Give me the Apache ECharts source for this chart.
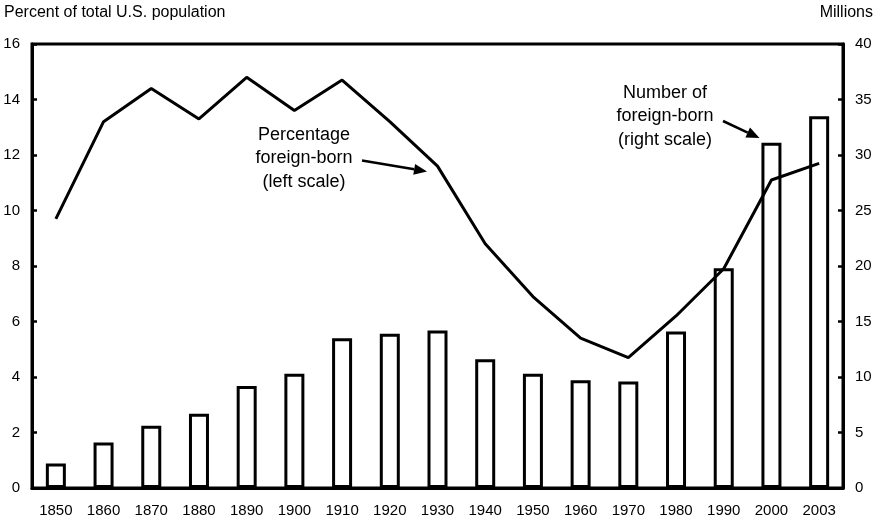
<!DOCTYPE html>
<html>
<head>
<meta charset="utf-8">
<script src="https://cdn.jsdelivr.net/npm/echarts@6/dist/echarts.min.js"></script>
<style>
  html, body { margin: 0; padding: 0; background: #fff; }
  #chart { width: 881px; height: 524px; }
</style>
</head>
<body>
<div id="chart"></div>
<script>
'use strict';

const years = ['1850', '1860', '1870', '1880', '1890', '1900', '1910', '1920', '1930',
    '1940', '1950', '1960', '1970', '1980', '1990', '2000', '2003'];

// percent of total population (left scale)
const pctForeignBorn = [9.7, 13.2, 14.4, 13.3, 14.8, 13.6, 14.7, 13.2, 11.6,
    8.8, 6.9, 5.4, 4.7, 6.2, 7.9, 11.1, 11.7];

// number of foreign-born, millions (right scale)
const numForeignBorn = [2.2, 4.1, 5.6, 6.7, 9.2, 10.3, 13.5, 13.9, 14.2,
    11.6, 10.3, 9.7, 9.6, 14.1, 19.8, 31.1, 33.5];

const font = 'Liberation Sans, Arial, sans-serif';
const ink = '#000';

const axisBase = {
    type: 'value',
    axisLine: { show: true, lineStyle: { color: ink, width: 3 } },
    axisTick: { show: true, inside: true, length: 5, lineStyle: { color: ink, width: 2.5 } },
    splitLine: { show: false },
    axisLabel: { color: ink, fontSize: 15, fontFamily: font, margin: 12 },
};

const arrow = (x1, y1, x2, y2) => {
    const a = Math.atan2(y2 - y1, x2 - x1);
    const len = 13, half = 5.5;
    const bx = x2 - len * Math.cos(a), by = y2 - len * Math.sin(a);
    const px = -Math.sin(a) * half, py = Math.cos(a) * half;
    return [
        { type: 'line', shape: { x1: x1, y1: y1, x2: bx, y2: by },
          style: { stroke: ink, lineWidth: 2.5 }, z: 100 },
        { type: 'polygon', shape: { points: [[x2, y2], [bx + px, by + py], [bx - px, by - py]] },
          style: { fill: ink }, z: 100 },
    ];
};

const label = (x, y, text, align) => ({
    type: 'text', x: x, y: y, z: 100,
    style: { text: text, fill: ink, font: '16px ' + font, textAlign: align, textVerticalAlign: 'middle' },
});

const note = (x, y, text) => ({
    type: 'text', x: x, y: y, z: 100,
    style: { text: text, fill: ink, font: '18px ' + font, textAlign: 'center',
             textVerticalAlign: 'top', lineHeight: 23.5 },
});

const chart = echarts.init(document.getElementById('chart'));

chart.setOption({
    animation: false,
    backgroundColor: '#fff',
    grid: {
        left: 32, right: 38, top: 44, bottom: 36,
        show: true, borderColor: ink, borderWidth: 3, backgroundColor: 'transparent',
    },
    xAxis: {
        type: 'category',
        data: years,
        boundaryGap: true,
        axisLine: { show: true, lineStyle: { color: ink, width: 3 } },
        axisTick: { show: false },
        axisLabel: { color: ink, fontSize: 15, fontFamily: font, margin: 15, interval: 0 },
    },
    yAxis: [
        Object.assign({}, axisBase, { position: 'left', min: 0, max: 16, interval: 2 }),
        Object.assign({}, axisBase, { position: 'right', min: 0, max: 40, interval: 5 }),
    ],
    series: [
        {
            type: 'bar',
            yAxisIndex: 1,
            data: numForeignBorn,
            barWidth: 20,
            itemStyle: { color: '#fff', borderColor: ink, borderWidth: 3 },
            z: 2,
        },
        {
            type: 'line',
            yAxisIndex: 0,
            data: pctForeignBorn,
            symbol: 'none',
            lineStyle: { color: ink, width: 3 },
            z: 5,
        },
    ],
    graphic: [
        label(4, 13, 'Percent of total U.S. population', 'left'),
        label(873, 13, 'Millions', 'right'),
        note(304, 123, 'Percentage\nforeign-born\n(left scale)'),
        note(665, 81, 'Number of\nforeign-born\n(right scale)'),
        ...arrow(362, 160.5, 427, 171.5),
        ...arrow(723, 121, 759.5, 138),
    ],
});
</script>
</body>
</html>
